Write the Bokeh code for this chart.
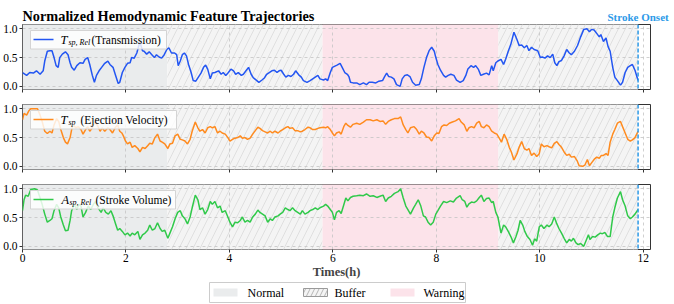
from bokeh.plotting import figure
from bokeh.layouts import column
from bokeh.models import Range1d, Span
from bokeh.core.properties import value
from bokeh.embed import file_html
from bokeh.resources import INLINE

# ---------------- data (time in hours, normalized value) ----------------
transmission = [
    (0.00, 0.24), (0.08, 0.19), (0.14, 0.24), (0.21, 0.23), (0.27, 0.27), (0.34, 0.21), (0.40, 0.27), (0.43, 0.44),
    (0.48, 0.61), (0.53, 0.62), (0.57, 0.62), (0.61, 0.50), (0.65, 0.36), (0.69, 0.33), (0.72, 0.50), (0.77, 0.56),
    (0.83, 0.60), (0.88, 0.55), (0.92, 0.41), (0.95, 0.33), (1.00, 0.28), (1.05, 0.36), (1.11, 0.41), (1.17, 0.40),
    (1.21, 0.47), (1.26, 0.50), (1.30, 0.38), (1.35, 0.19), (1.39, 0.07), (1.43, 0.19), (1.48, 0.27), (1.53, 0.33),
    (1.59, 0.40), (1.65, 0.44), (1.69, 0.38), (1.75, 0.33), (1.80, 0.19), (1.85, 0.05), (1.88, 0.07), (1.93, 0.24),
    (1.98, 0.33), (2.03, 0.40), (2.08, 0.41), (2.11, 0.50), (2.16, 0.49), (2.21, 0.58), (2.24, 0.68), (2.27, 0.77),
    (2.32, 0.62), (2.35, 0.61), (2.40, 0.56), (2.45, 0.60), (2.50, 0.55), (2.55, 0.50), (2.59, 0.55), (2.64, 0.51),
    (2.69, 0.49), (2.74, 0.55), (2.79, 0.64), (2.83, 0.67), (2.88, 0.58), (2.94, 0.58), (2.98, 0.55), (3.01, 0.36),
    (3.05, 0.44), (3.09, 0.55), (3.13, 0.58), (3.17, 0.53), (3.21, 0.38), (3.26, 0.24), (3.30, 0.10), (3.35, 0.09),
    (3.40, 0.16), (3.45, 0.23), (3.50, 0.33), (3.54, 0.37), (3.58, 0.30), (3.63, 0.13), (3.67, 0.23), (3.72, 0.24),
    (3.79, 0.27), (3.84, 0.21), (3.88, 0.24), (3.93, 0.19), (3.98, 0.24), (4.03, 0.30), (4.08, 0.27), (4.12, 0.21),
    (4.17, 0.24), (4.23, 0.19), (4.27, 0.21), (4.32, 0.27), (4.37, 0.33), (4.42, 0.21), (4.46, 0.15), (4.53, 0.10),
    (4.57, 0.07), (4.63, 0.11), (4.68, 0.15), (4.72, 0.21), (4.77, 0.24), (4.82, 0.27), (4.87, 0.28), (4.92, 0.24),
    (4.96, 0.27), (5.00, 0.28), (5.05, 0.21), (5.09, 0.16), (5.14, 0.19), (5.19, 0.17), (5.24, 0.21), (5.28, 0.27),
    (5.34, 0.20), (5.39, 0.16), (5.43, 0.10), (5.50, 0.07), (5.56, 0.10), (5.61, 0.13), (5.66, 0.16), (5.71, 0.19),
    (5.75, 0.13), (5.82, 0.11), (5.86, 0.13), (5.90, 0.10), (5.95, 0.24), (5.99, 0.33),
    (6.08, 0.37), (6.14, 0.40), (6.18, 0.33), (6.23, 0.24), (6.28, 0.21), (6.31, 0.17), (6.34, 0.07), (6.39, 0.06),
    (6.46, 0.06), (6.52, 0.03), (6.59, 0.06), (6.65, 0.03), (6.70, 0.07), (6.76, 0.07), (6.83, 0.06), (6.89, 0.09),
    (6.96, 0.10), (7.00, 0.17), (7.04, 0.23), (7.08, 0.17), (7.13, 0.16), (7.18, 0.13), (7.23, 0.03), (7.30, 0.00),
    (7.34, 0.13), (7.39, 0.19), (7.44, 0.20), (7.49, 0.17), (7.54, 0.07), (7.60, 0.02), (7.67, 0.03), (7.71, 0.13),
    (7.76, 0.33), (7.81, 0.50), (7.86, 0.62), (7.91, 0.68), (7.96, 0.61), (7.99, 0.50), (8.03, 0.38), (8.08, 0.28),
    (8.14, 0.19), (8.18, 0.16), (8.23, 0.19), (8.28, 0.21), (8.34, 0.19), (8.39, 0.11), (8.46, 0.07), (8.52, 0.10),
    (8.57, 0.19), (8.61, 0.30), (8.67, 0.36), (8.72, 0.33), (8.76, 0.36), (8.81, 0.30), (8.86, 0.19), (8.91, 0.21),
    (8.97, 0.23), (9.02, 0.20), (9.07, 0.36), (9.10, 0.27), (9.15, 0.41), (9.19, 0.44), (9.25, 0.47), (9.30, 0.38),
    (9.34, 0.47), (9.39, 0.61), (9.44, 0.73), (9.50, 0.94), (9.56, 0.81), (9.60, 0.71), (9.65, 0.72), (9.70, 0.67),
    (9.75, 0.71), (9.79, 0.62), (9.84, 0.68), (9.89, 0.64), (9.96, 0.62), (10.01, 0.50), (10.05, 0.51), (10.10, 0.49),
    (10.15, 0.53), (10.20, 0.50), (10.25, 0.56), (10.29, 0.41), (10.33, 0.36), (10.37, 0.43), (10.42, 0.45), (10.47, 0.53),
    (10.52, 0.64), (10.57, 0.58), (10.61, 0.55), (10.67, 0.61), (10.73, 0.71), (10.79, 0.86), (10.85, 0.99), (10.91, 1.00),
    (10.96, 0.95), (11.00, 0.99), (11.05, 0.98), (11.10, 0.92), (11.15, 0.86), (11.18, 0.90), (11.23, 0.78), (11.28, 0.84),
    (11.32, 0.69), (11.36, 0.61), (11.41, 0.33), (11.45, 0.16), (11.50, 0.10), (11.56, 0.02), (11.60, 0.07), (11.65, 0.24),
    (11.70, 0.33), (11.75, 0.36), (11.79, 0.38), (11.84, 0.28), (11.90, 0.10),
]

ejection_velocity = [
    (0.00, 0.81), (0.03, 0.92), (0.08, 0.89), (0.12, 0.96), (0.16, 1.00), (0.24, 1.00), (0.29, 1.00), (0.34, 0.89),
    (0.38, 0.78), (0.43, 0.61), (0.48, 0.57), (0.53, 0.61), (0.57, 0.58), (0.61, 0.72), (0.66, 0.83), (0.70, 0.78),
    (0.74, 0.64), (0.79, 0.50), (0.83, 0.42), (0.87, 0.39), (0.92, 0.50), (0.95, 0.64), (0.98, 0.72), (1.03, 0.67),
    (1.08, 0.69), (1.13, 0.64), (1.17, 0.56), (1.22, 0.64), (1.26, 0.69), (1.30, 0.61), (1.35, 0.67), (1.40, 0.78),
    (1.45, 0.71), (1.50, 0.61), (1.54, 0.67), (1.59, 0.61), (1.65, 0.67), (1.69, 0.64), (1.74, 0.58), (1.79, 0.67),
    (1.84, 0.72), (1.88, 0.61), (1.92, 0.58), (1.95, 0.53), (1.99, 0.44), (2.03, 0.39), (2.08, 0.42), (2.12, 0.33),
    (2.17, 0.36), (2.23, 0.31), (2.27, 0.25), (2.32, 0.33), (2.37, 0.31), (2.42, 0.36), (2.46, 0.40), (2.51, 0.39),
    (2.56, 0.50), (2.61, 0.56), (2.66, 0.44), (2.70, 0.42), (2.75, 0.39), (2.81, 0.31), (2.85, 0.39), (2.90, 0.40),
    (2.95, 0.53), (3.00, 0.56), (3.05, 0.47), (3.09, 0.46), (3.14, 0.44), (3.19, 0.39), (3.24, 0.47), (3.28, 0.61),
    (3.34, 0.77), (3.39, 0.67), (3.43, 0.61), (3.48, 0.64), (3.53, 0.58), (3.58, 0.67), (3.63, 0.69), (3.67, 0.67),
    (3.72, 0.69), (3.77, 0.58), (3.82, 0.61), (3.86, 0.58), (3.92, 0.56), (3.97, 0.50), (4.01, 0.44), (4.06, 0.47),
    (4.11, 0.49), (4.16, 0.50), (4.21, 0.53), (4.25, 0.49), (4.30, 0.50), (4.35, 0.47), (4.40, 0.49), (4.45, 0.56),
    (4.50, 0.62), (4.55, 0.68), (4.59, 0.66), (4.64, 0.62), (4.69, 0.60), (4.74, 0.58), (4.79, 0.61), (4.83, 0.58),
    (4.88, 0.61), (4.94, 0.58), (4.98, 0.61), (5.03, 0.64), (5.08, 0.67), (5.13, 0.69), (5.17, 0.66), (5.22, 0.67),
    (5.27, 0.62), (5.32, 0.62), (5.37, 0.60), (5.41, 0.61), (5.46, 0.64), (5.52, 0.68), (5.56, 0.67), (5.61, 0.64),
    (5.66, 0.64), (5.71, 0.66), (5.75, 0.67), (5.82, 0.68), (5.86, 0.67), (5.90, 0.69), (5.95, 0.64), (5.99, 0.58),
    (6.03, 0.53), (6.07, 0.58), (6.12, 0.60), (6.16, 0.56), (6.21, 0.69), (6.25, 0.75), (6.29, 0.71), (6.34, 0.68),
    (6.39, 0.73), (6.46, 0.75), (6.52, 0.73), (6.59, 0.77), (6.65, 0.81), (6.72, 0.81), (6.78, 0.79), (6.85, 0.81),
    (6.91, 0.78), (6.97, 0.79), (7.02, 0.73), (7.07, 0.78), (7.13, 0.81), (7.19, 0.83), (7.26, 0.83), (7.31, 0.86),
    (7.36, 0.72), (7.41, 0.64), (7.45, 0.58), (7.50, 0.67), (7.57, 0.69), (7.62, 0.64), (7.67, 0.56), (7.71, 0.61),
    (7.76, 0.58), (7.81, 0.51), (7.86, 0.50), (7.91, 0.44), (7.96, 0.53), (8.01, 0.58), (8.05, 0.57), (8.10, 0.69),
    (8.15, 0.72), (8.20, 0.71), (8.25, 0.75), (8.31, 0.77), (8.37, 0.79), (8.44, 0.83), (8.48, 0.77), (8.54, 0.72),
    (8.59, 0.61), (8.63, 0.67), (8.68, 0.69), (8.73, 0.67), (8.78, 0.75), (8.83, 0.78), (8.87, 0.69), (8.92, 0.67),
    (8.97, 0.72), (9.02, 0.69), (9.07, 0.61), (9.12, 0.58), (9.17, 0.56), (9.21, 0.50), (9.26, 0.42), (9.31, 0.56),
    (9.36, 0.47), (9.41, 0.33), (9.45, 0.25), (9.50, 0.11), (9.56, 0.22), (9.60, 0.33), (9.65, 0.43), (9.70, 0.31),
    (9.75, 0.28), (9.79, 0.31), (9.84, 0.19), (9.89, 0.23), (9.94, 0.17), (9.99, 0.22), (10.03, 0.39), (10.08, 0.34),
    (10.14, 0.36), (10.18, 0.34), (10.23, 0.32), (10.28, 0.40), (10.33, 0.43), (10.37, 0.38), (10.42, 0.33), (10.47, 0.25),
    (10.52, 0.19), (10.57, 0.21), (10.61, 0.16), (10.67, 0.17), (10.72, 0.10), (10.76, 0.01), (10.83, 0.00), (10.87, 0.02),
    (10.92, 0.12), (10.96, 0.01), (11.00, 0.06), (11.05, 0.12), (11.10, 0.16), (11.15, 0.14), (11.19, 0.19), (11.23, 0.19),
    (11.28, 0.22), (11.32, 0.19), (11.36, 0.42), (11.41, 0.56), (11.45, 0.64), (11.50, 0.75), (11.56, 0.78), (11.60, 0.69),
    (11.65, 0.58), (11.70, 0.47), (11.75, 0.44), (11.79, 0.46), (11.84, 0.50), (11.90, 0.61),
]

stroke_volume = [
    (0.00, 0.62), (0.03, 0.81), (0.06, 0.89), (0.11, 0.87), (0.16, 0.99), (0.23, 1.00), (0.29, 0.98), (0.34, 0.84),
    (0.38, 0.73), (0.43, 0.56), (0.48, 0.42), (0.53, 0.45), (0.57, 0.48), (0.61, 0.62), (0.66, 0.73), (0.70, 0.67),
    (0.74, 0.51), (0.79, 0.37), (0.83, 0.27), (0.88, 0.28), (0.92, 0.45), (0.95, 0.62), (1.00, 0.73), (1.05, 0.64),
    (1.09, 0.73), (1.13, 0.70), (1.17, 0.51), (1.22, 0.59), (1.27, 0.70), (1.32, 0.64), (1.37, 0.73), (1.41, 0.78),
    (1.46, 0.67), (1.52, 0.59), (1.56, 0.67), (1.61, 0.59), (1.66, 0.56), (1.71, 0.62), (1.75, 0.53), (1.80, 0.39),
    (1.84, 0.28), (1.88, 0.31), (1.93, 0.26), (1.98, 0.20), (2.03, 0.23), (2.08, 0.18), (2.12, 0.23), (2.17, 0.20),
    (2.23, 0.26), (2.27, 0.12), (2.32, 0.20), (2.37, 0.23), (2.42, 0.28), (2.46, 0.37), (2.51, 0.28), (2.56, 0.31),
    (2.61, 0.41), (2.66, 0.31), (2.70, 0.26), (2.75, 0.28), (2.81, 0.14), (2.85, 0.23), (2.90, 0.34), (2.95, 0.48),
    (3.00, 0.59), (3.05, 0.62), (3.09, 0.53), (3.14, 0.48), (3.19, 0.39), (3.24, 0.51), (3.28, 0.67), (3.34, 0.89),
    (3.39, 0.81), (3.43, 0.64), (3.48, 0.67), (3.53, 0.56), (3.58, 0.64), (3.63, 0.78), (3.67, 0.73), (3.72, 0.78),
    (3.77, 0.67), (3.82, 0.70), (3.86, 0.59), (3.92, 0.62), (3.97, 0.51), (4.01, 0.42), (4.06, 0.34), (4.11, 0.42),
    (4.16, 0.41), (4.21, 0.45), (4.25, 0.51), (4.30, 0.42), (4.35, 0.45), (4.40, 0.42), (4.45, 0.51), (4.50, 0.56),
    (4.55, 0.63), (4.59, 0.59), (4.64, 0.56), (4.69, 0.53), (4.74, 0.42), (4.79, 0.48), (4.83, 0.45), (4.88, 0.51),
    (4.94, 0.53), (4.98, 0.56), (5.03, 0.59), (5.08, 0.67), (5.13, 0.64), (5.17, 0.62), (5.22, 0.67), (5.27, 0.62),
    (5.32, 0.59), (5.37, 0.56), (5.41, 0.62), (5.46, 0.56), (5.52, 0.59), (5.56, 0.62), (5.61, 0.64), (5.66, 0.67),
    (5.71, 0.64), (5.75, 0.67), (5.82, 0.70), (5.86, 0.73), (5.90, 0.70), (5.95, 0.64), (5.99, 0.59), (6.03, 0.46),
    (6.07, 0.59), (6.12, 0.62), (6.16, 0.57), (6.21, 0.72), (6.25, 0.84), (6.29, 0.79), (6.34, 0.85), (6.39, 0.87),
    (6.46, 0.88), (6.52, 0.89), (6.59, 0.88), (6.65, 0.91), (6.72, 0.87), (6.78, 0.88), (6.85, 0.85), (6.91, 0.87),
    (6.97, 0.89), (7.02, 0.78), (7.07, 0.84), (7.13, 0.87), (7.19, 0.92), (7.26, 0.95), (7.31, 1.00), (7.36, 0.84),
    (7.41, 0.70), (7.45, 0.64), (7.50, 0.56), (7.56, 0.67), (7.60, 0.73), (7.65, 0.81), (7.70, 0.70), (7.75, 0.53),
    (7.79, 0.51), (7.84, 0.42), (7.89, 0.37), (7.94, 0.42), (7.99, 0.56), (8.03, 0.62), (8.08, 0.70), (8.14, 0.78),
    (8.20, 0.76), (8.27, 0.79), (8.33, 0.77), (8.39, 0.84), (8.46, 0.88), (8.50, 0.81), (8.55, 0.78), (8.59, 0.68),
    (8.63, 0.74), (8.68, 0.77), (8.73, 0.76), (8.78, 0.79), (8.83, 0.85), (8.87, 0.89), (8.92, 0.78), (8.97, 0.83),
    (9.02, 0.84), (9.07, 0.76), (9.10, 0.78), (9.15, 0.59), (9.19, 0.51), (9.25, 0.23), (9.30, 0.37), (9.34, 0.34),
    (9.39, 0.26), (9.44, 0.17), (9.49, 0.06), (9.54, 0.17), (9.58, 0.28), (9.62, 0.45), (9.67, 0.37), (9.71, 0.26),
    (9.76, 0.17), (9.81, 0.12), (9.86, 0.02), (9.90, 0.13), (9.94, 0.09), (9.99, 0.34), (10.03, 0.37), (10.08, 0.31),
    (10.14, 0.37), (10.18, 0.34), (10.23, 0.39), (10.28, 0.51), (10.33, 0.39), (10.37, 0.31), (10.42, 0.23), (10.47, 0.14),
    (10.52, 0.06), (10.57, 0.12), (10.61, 0.09), (10.65, 0.14), (10.70, 0.06), (10.74, 0.03), (10.79, 0.05), (10.85, 0.00),
    (10.89, 0.09), (10.94, 0.20), (10.97, 0.12), (11.02, 0.17), (11.07, 0.16), (11.12, 0.20), (11.17, 0.23), (11.21, 0.22),
    (11.26, 0.24), (11.31, 0.17), (11.36, 0.17), (11.41, 0.51), (11.45, 0.67), (11.50, 0.84), (11.56, 0.95), (11.60, 0.81),
    (11.65, 0.70), (11.70, 0.53), (11.75, 0.48), (11.79, 0.51), (11.84, 0.56), (11.90, 0.64),
]

phase_start = [0.0, 2.8, 5.8, 9.2]
phase_end = [2.8, 5.8, 9.2, 11.9]
phase_kind = ["Normal", "Buffer", "Warning", "Buffer"]
legend_phases = ["Normal", "Buffer", "Warning"]
onset_time = 11.9

x_ticks = [0, 2, 4, 6, 8, 10, 12]
x_tick_labels = ["0", "2", "4", "6", "8", "10", "12"]
y_ticks = [0.0, 0.5, 1.0]
y_tick_labels = ["0.0", "0.5", "1.0"]

title_text = "Normalized Hemodynamic Feature Trajectories"
x_label = "Times(h)"
onset_text = "Stroke Onset"

# ---------------- styling / layout ----------------
FONT = "Liberation Serif"
COLORS = ["#2356f2", "#ff8b1f", "#30c94a"]
ONSET_COLOR = "#2d9ae8"
PHASE_STYLE = {
    "Normal": dict(fill_color="#eaeced", line_color=None),
    "Buffer": dict(fill_color="#f4f4f4", line_color=None, hatch_pattern="/",
                   hatch_color="#d6d6d6", hatch_weight=0.7, hatch_scale=14),
    "Warning": dict(fill_color="#fce3ea", line_color=None),
}
TOTAL_W = 674
LEFT_B, RIGHT_B = 22, 24
W_FRAME = TOTAL_W - LEFT_B - RIGHT_B
H_FRAME = 65
X0, X1 = 0.0, 12.14
Y0, Y1 = -0.055, 1.075
PX = W_FRAME / (X1 - X0)
PY = H_FRAME / (Y1 - Y0)


def fx(dx):
    return X0 + dx / PX


def fy(dy):
    return Y1 - dy / PY


def blank(h):
    b = figure(frame_width=TOTAL_W, frame_height=h, x_range=Range1d(0, TOTAL_W), y_range=Range1d(0, h),
               x_axis_type=None, y_axis_type=None, output_backend="svg", toolbar_location=None,
               min_border_left=0, min_border_right=0, min_border_top=0, min_border_bottom=0,
               outline_line_color=None, background_fill_color="white", border_fill_color="white")
    return b


# ---- header (own root): title + stroke onset marker text ----
HEAD_H = 24
header = blank(HEAD_H)
header.text(x=[LEFT_B], y=[9], text=[title_text], text_font=value(FONT), text_font_style="bold",
            text_font_size="14.3px", text_baseline="alphabetic", text_align="left", text_color="black")
header.text(x=[LEFT_B + onset_time * PX], y=[8], text=[onset_text], text_font=value(FONT),
            text_font_style="bold", text_font_size="11px", text_baseline="alphabetic",
            text_align="center", text_color=ONSET_COLOR)

# in-panel legend: box (dx from frame left in px), pieces (text, style, size px, dx, extra dy)
LEG = [
    dict(box=(8, 144), pieces=[("T", "italic", 12.5, 38, 0), ("sp, Rel", "italic", 8, 46, 3),
                               ("(Transmission)", "normal", 11.5, 69, 0)]),
    dict(box=(8, 154), pieces=[("T", "italic", 12.5, 38, 0), ("sp", "italic", 8, 46, 3),
                               ("(Ejection Velocity)", "normal", 11.5, 58, 0)]),
    dict(box=(8, 153), pieces=[("A", "italic", 12.5, 39, 0), ("sp, Rel", "italic", 8, 47, 3),
                               ("(Stroke Volume)", "normal", 11.5, 73, 0)]),
]

series = [transmission, ejection_velocity, stroke_volume]
panels = []
for i, data in enumerate(series):
    first, last = i == 0, i == len(series) - 1
    p = figure(frame_width=W_FRAME, frame_height=H_FRAME,
               x_range=Range1d(X0, X1), y_range=Range1d(Y0, Y1),
               output_backend="svg", toolbar_location=None,
               min_border_left=LEFT_B, min_border_right=RIGHT_B,
               min_border_top=0 if first else 7,
               min_border_bottom=0 if last else 8,
               background_fill_color="white", border_fill_color="white")

    for s, e, k in zip(phase_start, phase_end, phase_kind):
        p.quad(left=[s], right=[e], bottom=[Y0 - 1], top=[Y1 + 1], level="image", **PHASE_STYLE[k])

    ts = [a for a, b in data]
    vs = [b for a, b in data]
    p.line(ts, vs, line_color=COLORS[i], line_width=1.5)

    p.add_layout(Span(location=onset_time, dimension="height", line_color=ONSET_COLOR,
                      line_dash="4 2", line_width=1.5))

    spec = LEG[i]
    cy = 15
    p.quad(left=[fx(spec["box"][0])], right=[fx(spec["box"][1])], top=[fy(6)], bottom=[fy(24.5)],
           fill_color="white", fill_alpha=0.82, line_color="#d4d4d4", line_width=1)
    p.line([fx(11), fx(31)], [fy(cy), fy(cy)], line_color=COLORS[i], line_width=1.5)
    for txt, style, size, dx, ddy in spec["pieces"]:
        p.text(x=[fx(dx)], y=[fy(cy + ddy)], text=[txt], text_font=value(FONT),
               text_font_style=style, text_font_size=f"{size}px", text_baseline="middle",
               text_align="left", text_color="black")

    p.xaxis.ticker = x_ticks
    p.xgrid.ticker = x_ticks
    p.xaxis.major_label_overrides = {t: l for t, l in zip(x_ticks, x_tick_labels)}
    p.yaxis.ticker = y_ticks
    p.ygrid.ticker = y_ticks
    p.yaxis.major_label_overrides = {t: l for t, l in zip(y_ticks, y_tick_labels)}
    for ax in p.axis:
        ax.major_label_text_font = FONT
        ax.major_label_text_font_size = "11.5px"
        ax.major_label_text_color = "black"
        ax.major_tick_out = 3
        ax.major_tick_in = 0
        ax.minor_tick_out = 0
        ax.minor_tick_in = 0
        ax.axis_line_color = None
        ax.major_tick_line_color = "#333333"
        ax.major_label_standoff = 2
    if not last:
        p.xaxis.major_label_text_color = None
        p.xaxis.major_label_text_font_size = "1px"
    else:
        p.xaxis.major_label_standoff = 1
        p.xaxis.axis_label = x_label
        p.xaxis.axis_label_text_font = FONT
        p.xaxis.axis_label_text_font_style = "bold"
        p.xaxis.axis_label_text_font_size = "12.5px"
        p.xaxis.axis_label_standoff = 0
    for g in (p.xgrid, p.ygrid):
        g.grid_line_color = "#c4c4c4"
        g.grid_line_dash = "3 3"
        g.grid_line_width = 0.8
    p.outline_line_color = "#333333"
    p.outline_line_width = 1
    panels.append(p)

# ---- footer (own root): phase legend ----
FOOT_H = 22
footer = blank(FOOT_H)
frame_center = LEFT_B + W_FRAME / 2
box_l, box_r = frame_center - 127, frame_center + 129
footer.quad(left=[box_l], right=[box_r], bottom=[1], top=[21], fill_color="white",
            line_color="#cccccc", line_width=1)
swatch_dx = [4, 94, 181]
label_dx = [38, 125, 214]
for k, sdx, ldx in zip(legend_phases, swatch_dx, label_dx):
    style = dict(PHASE_STYLE[k])
    if k == "Buffer":
        style["line_color"] = "#9a9a9a"
        style["hatch_scale"] = 9
        style["hatch_color"] = "#9a9a9a"
    footer.quad(left=[box_l + sdx], right=[box_l + sdx + 24], bottom=[7], top=[15], **style)
    footer.text(x=[box_l + ldx], y=[11], text=[k], text_font=value(FONT), text_font_size="12px",
                text_baseline="middle", text_align="left", text_color="black")

body = column(*panels)
open("out.html", "w").write(file_html([header, body, footer], INLINE, title=title_text))
